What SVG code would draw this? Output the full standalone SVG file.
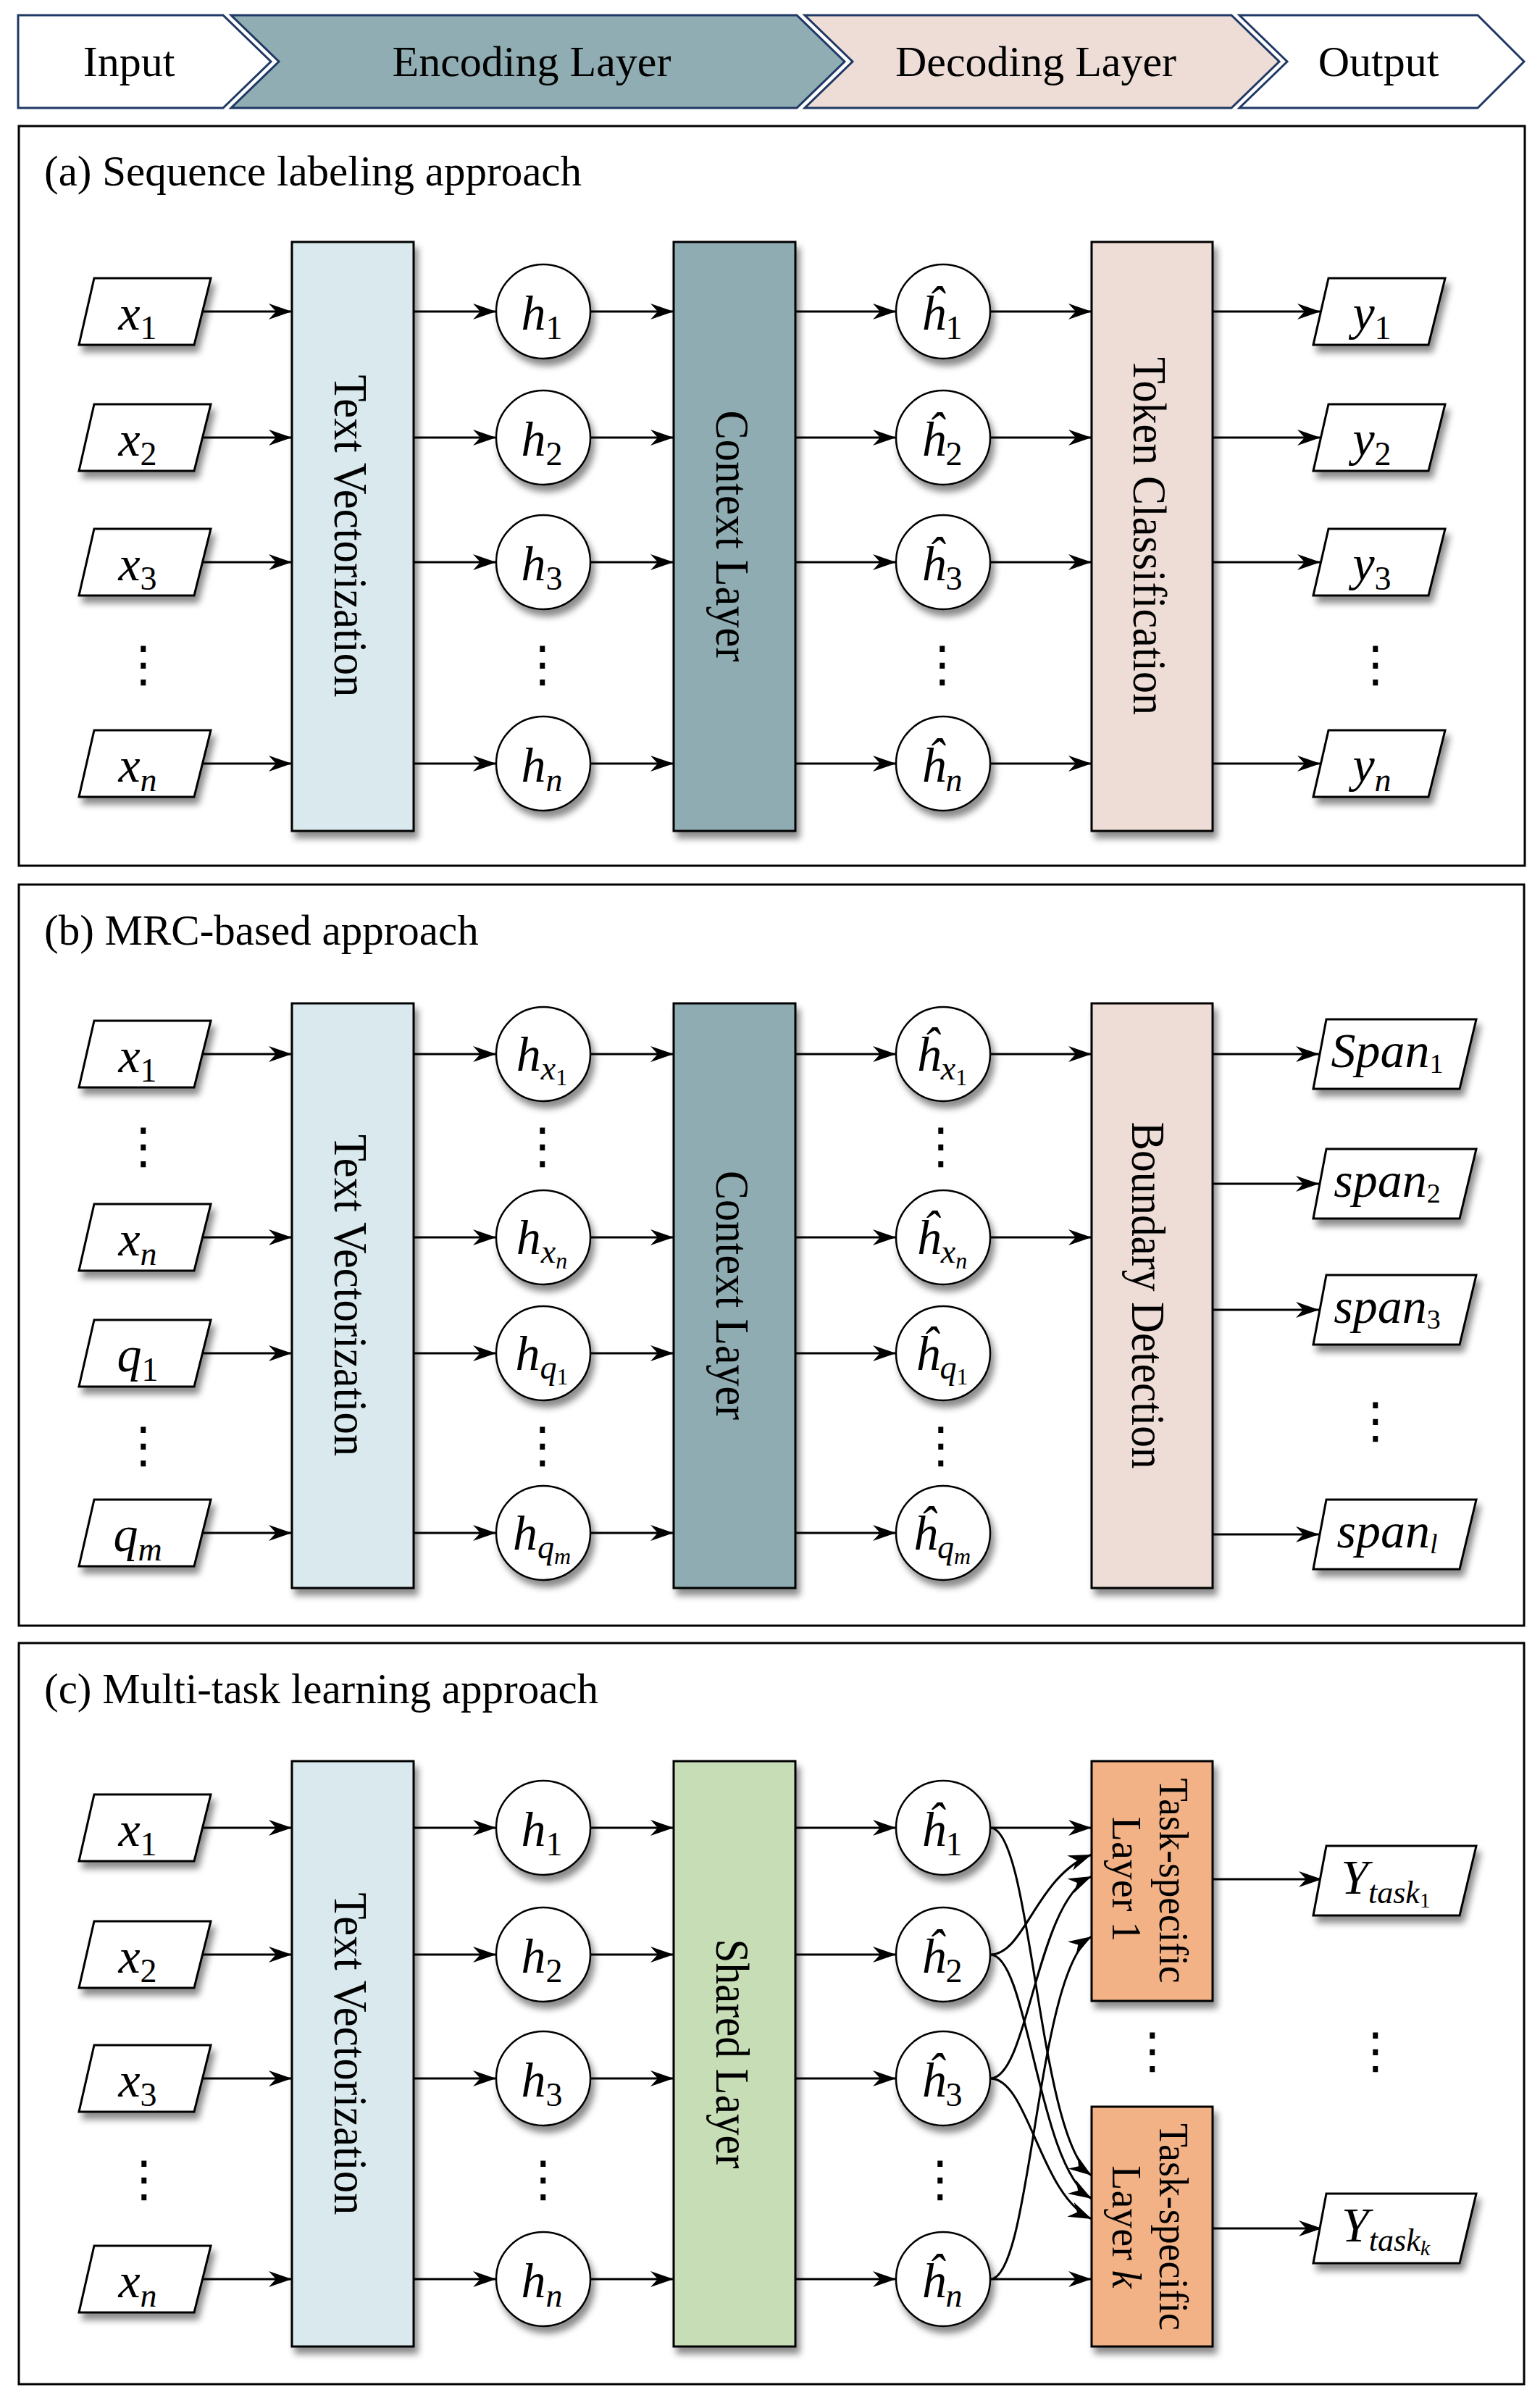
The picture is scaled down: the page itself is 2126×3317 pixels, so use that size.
<svg xmlns="http://www.w3.org/2000/svg" width="2126" height="3317" viewBox="0 0 2126 3317">
<style>
.frame{fill:none;stroke:#000;stroke-width:3}
.ban{stroke:#1F3864;stroke-width:3}
.box{stroke:#000;stroke-width:3;filter:url(#sh)}
.node{fill:#fff;stroke:#000;stroke-width:2.5;filter:url(#sh)}
.conn{fill:none;stroke:#000;stroke-width:3;marker-end:url(#arr)}
text{font-family:"Liberation Serif","Times New Roman",serif;fill:#000}
.bt{font-size:60px;text-anchor:middle}
.title{font-size:59px}
.rl{font-size:66px;text-anchor:middle}
.tl{font-size:56px;text-anchor:middle}
.v{font-size:68px;text-anchor:middle}
.i{font-style:italic}
.dots{font-family:"DejaVu Sans",sans-serif;font-size:68px;text-anchor:middle}
.tv{fill:#D9E9EE}.cl{fill:#8EACB1}.dc{fill:#EEDDD6}.sl{fill:#C6DDB5}.ts{fill:#F2B286}
</style>
<defs>
<filter id="sh" x="-30%" y="-30%" width="170%" height="170%">
<feDropShadow dx="5" dy="9" stdDeviation="5" flood-color="#000" flood-opacity="0.45"/>
</filter>
<marker id="arr" markerWidth="40" markerHeight="30" viewBox="0 0 40 30" refX="32" refY="12" orient="auto" markerUnits="userSpaceOnUse">
<path d="M0,1 L32,12 L0,23 L10,12 Z" fill="#000"/>
</marker>
<polygon id="para" points="-70,-46 91,-46 68,46 -91,46" fill="#fff" stroke="#000" stroke-width="3"/>
<polygon id="paraw" points="-94,-48 113,-48 90,48 -112,48" fill="#fff" stroke="#000" stroke-width="3"/>
</defs>
<rect width="2126" height="3317" fill="#fff"/>

<g id="banner">
<polygon class="ban" fill="#fff" points="25,21 308,21 374,85 308,149 25,149"/>
<polygon class="ban" fill="#8FADB2" points="319,21 1100,21 1166,85 1100,149 319,149 385,85"/>
<polygon class="ban" fill="#EEDDD6" points="1111,21 1700,21 1766,85 1700,149 1111,149 1177,85"/>
<polygon class="ban" fill="#fff" points="1711,21 2040,21 2104,85 2040,149 1711,149 1777,85"/>
<text class="bt" x="178" y="105">Input</text>
<text class="bt" x="734" y="105">Encoding Layer</text>
<text class="bt" x="1430" y="105">Decoding Layer</text>
<text class="bt" x="1903" y="105">Output</text>
</g>

<g id="frames">
<rect class="frame" x="26" y="174" width="2079" height="1021"/>
<text class="title" x="61" y="256">(a) Sequence labeling approach</text>
<rect class="frame" x="26" y="1221" width="2078" height="1023"/>
<text class="title" x="61" y="1304">(b) MRC-based approach</text>
<rect class="frame" x="26" y="2268" width="2078" height="1023"/>
<text class="title" x="61" y="2351">(c) Multi-task learning approach</text>
</g>

<g id="connectors">
<!-- (a) -->
<path class="conn" d="M279,430H403"/><path class="conn" d="M279,604H403"/><path class="conn" d="M279,776H403"/><path class="conn" d="M279,1054H403"/>
<path class="conn" d="M571,430H685"/><path class="conn" d="M571,604H685"/><path class="conn" d="M571,776H685"/><path class="conn" d="M571,1054H685"/>
<path class="conn" d="M815,430H930"/><path class="conn" d="M815,604H930"/><path class="conn" d="M815,776H930"/><path class="conn" d="M815,1054H930"/>
<path class="conn" d="M1098,430H1237"/><path class="conn" d="M1098,604H1237"/><path class="conn" d="M1098,776H1237"/><path class="conn" d="M1098,1054H1237"/>
<path class="conn" d="M1367,430H1507"/><path class="conn" d="M1367,604H1507"/><path class="conn" d="M1367,776H1507"/><path class="conn" d="M1367,1054H1507"/>
<path class="conn" d="M1674,430H1823"/><path class="conn" d="M1674,604H1823"/><path class="conn" d="M1674,776H1823"/><path class="conn" d="M1674,1054H1823"/>
<!-- (b) -->
<path class="conn" d="M279,1455H403"/><path class="conn" d="M279,1708H403"/><path class="conn" d="M279,1868H403"/><path class="conn" d="M279,2116H403"/>
<path class="conn" d="M571,1455H685"/><path class="conn" d="M571,1708H685"/><path class="conn" d="M571,1868H685"/><path class="conn" d="M571,2116H685"/>
<path class="conn" d="M815,1455H930"/><path class="conn" d="M815,1708H930"/><path class="conn" d="M815,1868H930"/><path class="conn" d="M815,2116H930"/>
<path class="conn" d="M1098,1455H1237"/><path class="conn" d="M1098,1708H1237"/><path class="conn" d="M1098,1868H1237"/><path class="conn" d="M1098,2116H1237"/>
<path class="conn" d="M1367,1455H1507"/><path class="conn" d="M1367,1708H1507"/>
<path class="conn" d="M1674,1455H1821"/><path class="conn" d="M1674,1634H1821"/><path class="conn" d="M1674,1808H1821"/><path class="conn" d="M1674,2118H1821"/>
<!-- (c) -->
<path class="conn" d="M279,2523H403"/><path class="conn" d="M279,2698H403"/><path class="conn" d="M279,2869H403"/><path class="conn" d="M279,3146H403"/>
<path class="conn" d="M571,2523H685"/><path class="conn" d="M571,2698H685"/><path class="conn" d="M571,2869H685"/><path class="conn" d="M571,3146H685"/>
<path class="conn" d="M815,2523H930"/><path class="conn" d="M815,2698H930"/><path class="conn" d="M815,2869H930"/><path class="conn" d="M815,3146H930"/>
<path class="conn" d="M1098,2523H1237"/><path class="conn" d="M1098,2698H1237"/><path class="conn" d="M1098,2869H1237"/><path class="conn" d="M1098,3146H1237"/>
<path class="conn" d="M1367,2523H1507"/>
<path class="conn" d="M1367,3146H1507"/>
<path class="conn" d="M1367,2698C1415,2698 1430,2590 1507,2560"/>
<path class="conn" d="M1367,2869C1420,2869 1430,2625 1507,2590"/>
<path class="conn" d="M1367,3146C1425,3146 1430,2720 1507,2673"/>
<path class="conn" d="M1367,2523C1425,2523 1432,2950 1507,3003"/>
<path class="conn" d="M1367,2698C1420,2698 1432,2990 1507,3035"/>
<path class="conn" d="M1367,2869C1420,2869 1435,3030 1507,3063"/>
<path class="conn" d="M1674,2594H1825"/>
<path class="conn" d="M1674,3076H1825"/>
</g>

<!-- ===== (a) nodes ===== -->
<g id="a-x1"><use href="#para" x="200" y="430" filter="url(#sh)"/><text class="v" x="190" y="455"><tspan class="i">x</tspan><tspan font-size="46" dy="13">1</tspan></text></g>
<g id="a-x2"><use href="#para" x="200" y="604" filter="url(#sh)"/><text class="v" x="190" y="629"><tspan class="i">x</tspan><tspan font-size="46" dy="13">2</tspan></text></g>
<g id="a-x3"><use href="#para" x="200" y="776" filter="url(#sh)"/><text class="v" x="190" y="801"><tspan class="i">x</tspan><tspan font-size="46" dy="13">3</tspan></text></g>
<g id="a-xdots"><text class="dots" x="198" y="940">⋮</text></g>
<g id="a-xn"><use href="#para" x="200" y="1054" filter="url(#sh)"/><text class="v" x="190" y="1079"><tspan class="i">x</tspan><tspan font-size="46" dy="13" class="i">n</tspan></text></g>

<g id="a-tv"><rect class="box tv" x="403" y="334" width="168" height="813"/><text class="rl" transform="translate(462,740) rotate(90)" textLength="445" lengthAdjust="spacingAndGlyphs">Text Vectorization</text></g>

<g id="a-h1"><circle class="node" cx="750" cy="430" r="65"/><text class="v" x="748" y="455"><tspan class="i">h</tspan><tspan font-size="46" dy="13">1</tspan></text></g>
<g id="a-h2"><circle class="node" cx="750" cy="604" r="65"/><text class="v" x="748" y="629"><tspan class="i">h</tspan><tspan font-size="46" dy="13">2</tspan></text></g>
<g id="a-h3"><circle class="node" cx="750" cy="776" r="65"/><text class="v" x="748" y="801"><tspan class="i">h</tspan><tspan font-size="46" dy="13">3</tspan></text></g>
<g id="a-hdots"><text class="dots" x="749" y="940">⋮</text></g>
<g id="a-hn"><circle class="node" cx="750" cy="1054" r="65"/><text class="v" x="748" y="1079"><tspan class="i">h</tspan><tspan font-size="46" dy="13" class="i">n</tspan></text></g>

<g id="a-ctx"><rect class="box cl" x="930" y="334" width="168" height="813"/><text class="rl" transform="translate(989,740) rotate(90)" textLength="347" lengthAdjust="spacingAndGlyphs">Context Layer</text></g>

<g id="a-hh1"><circle class="node" cx="1302" cy="430" r="65"/><text class="v" x="1300" y="455"><tspan class="i">ĥ</tspan><tspan font-size="46" dy="13">1</tspan></text></g>
<g id="a-hh2"><circle class="node" cx="1302" cy="604" r="65"/><text class="v" x="1300" y="629"><tspan class="i">ĥ</tspan><tspan font-size="46" dy="13">2</tspan></text></g>
<g id="a-hh3"><circle class="node" cx="1302" cy="776" r="65"/><text class="v" x="1300" y="801"><tspan class="i">ĥ</tspan><tspan font-size="46" dy="13">3</tspan></text></g>
<g id="a-hhdots"><text class="dots" x="1301" y="940">⋮</text></g>
<g id="a-hhn"><circle class="node" cx="1302" cy="1054" r="65"/><text class="v" x="1300" y="1079"><tspan class="i">ĥ</tspan><tspan font-size="46" dy="13" class="i">n</tspan></text></g>

<g id="a-tok"><rect class="box dc" x="1507" y="334" width="167" height="813"/><text class="rl" transform="translate(1565,740) rotate(90)" textLength="494" lengthAdjust="spacingAndGlyphs">Token Classification</text></g>

<g id="a-y1"><use href="#para" x="1904" y="430" filter="url(#sh)"/><text class="v" x="1894" y="455"><tspan class="i">y</tspan><tspan font-size="46" dy="13">1</tspan></text></g>
<g id="a-y2"><use href="#para" x="1904" y="604" filter="url(#sh)"/><text class="v" x="1894" y="629"><tspan class="i">y</tspan><tspan font-size="46" dy="13">2</tspan></text></g>
<g id="a-y3"><use href="#para" x="1904" y="776" filter="url(#sh)"/><text class="v" x="1894" y="801"><tspan class="i">y</tspan><tspan font-size="46" dy="13">3</tspan></text></g>
<g id="a-ydots"><text class="dots" x="1899" y="940">⋮</text></g>
<g id="a-yn"><use href="#para" x="1904" y="1054" filter="url(#sh)"/><text class="v" x="1894" y="1079"><tspan class="i">y</tspan><tspan font-size="46" dy="13" class="i">n</tspan></text></g>

<!-- ===== (b) nodes ===== -->
<g id="b-x1"><use href="#para" x="200" y="1455" filter="url(#sh)"/><text class="v" x="190" y="1480"><tspan class="i">x</tspan><tspan font-size="46" dy="13">1</tspan></text></g>
<g id="b-xdots"><text class="dots" x="198" y="1605">⋮</text></g>
<g id="b-xn"><use href="#para" x="200" y="1708" filter="url(#sh)"/><text class="v" x="190" y="1733"><tspan class="i">x</tspan><tspan font-size="46" dy="13" class="i">n</tspan></text></g>
<g id="b-q1"><use href="#para" x="200" y="1868" filter="url(#sh)"/><text class="v" x="190" y="1893"><tspan class="i">q</tspan><tspan font-size="46" dy="13">1</tspan></text></g>
<g id="b-qdots"><text class="dots" x="198" y="2018">⋮</text></g>
<g id="b-qm"><use href="#para" x="200" y="2116" filter="url(#sh)"/><text class="v" x="190" y="2141"><tspan class="i">q</tspan><tspan font-size="46" dy="13" class="i">m</tspan></text></g>

<g id="b-tv"><rect class="box tv" x="403" y="1385" width="168" height="807"/><text class="rl" transform="translate(462,1788) rotate(90)" textLength="444" lengthAdjust="spacingAndGlyphs">Text Vectorization</text></g>

<g id="b-hx1"><circle class="node" cx="750" cy="1455" r="65"/><text class="v" x="748" y="1478"><tspan class="i">h</tspan><tspan font-size="46" dy="12" class="i">x</tspan><tspan font-size="32" dy="8">1</tspan></text></g>
<g id="b-hdots1"><text class="dots" x="749" y="1605">⋮</text></g>
<g id="b-hxn"><circle class="node" cx="750" cy="1708" r="65"/><text class="v" x="748" y="1731"><tspan class="i">h</tspan><tspan font-size="46" dy="12" class="i">x</tspan><tspan font-size="32" dy="8" class="i">n</tspan></text></g>
<g id="b-hq1"><circle class="node" cx="750" cy="1868" r="65"/><text class="v" x="748" y="1891"><tspan class="i">h</tspan><tspan font-size="46" dy="12" class="i">q</tspan><tspan font-size="32" dy="8">1</tspan></text></g>
<g id="b-hdots2"><text class="dots" x="749" y="2018">⋮</text></g>
<g id="b-hqm"><circle class="node" cx="750" cy="2116" r="65"/><text class="v" x="748" y="2139"><tspan class="i">h</tspan><tspan font-size="46" dy="12" class="i">q</tspan><tspan font-size="32" dy="8" class="i">m</tspan></text></g>

<g id="b-ctx"><rect class="box cl" x="930" y="1385" width="168" height="807"/><text class="rl" transform="translate(989,1788) rotate(90)" textLength="344" lengthAdjust="spacingAndGlyphs">Context Layer</text></g>

<g id="b-hhx1"><circle class="node" cx="1302" cy="1455" r="65"/><text class="v" x="1300" y="1478"><tspan class="i">ĥ</tspan><tspan font-size="46" dy="12" class="i">x</tspan><tspan font-size="32" dy="8">1</tspan></text></g>
<g id="b-hhdots1"><text class="dots" x="1299" y="1605">⋮</text></g>
<g id="b-hhxn"><circle class="node" cx="1302" cy="1708" r="65"/><text class="v" x="1300" y="1731"><tspan class="i">ĥ</tspan><tspan font-size="46" dy="12" class="i">x</tspan><tspan font-size="32" dy="8" class="i">n</tspan></text></g>
<g id="b-hhq1"><circle class="node" cx="1302" cy="1868" r="65"/><text class="v" x="1300" y="1891"><tspan class="i">ĥ</tspan><tspan font-size="46" dy="12" class="i">q</tspan><tspan font-size="32" dy="8">1</tspan></text></g>
<g id="b-hhdots2"><text class="dots" x="1299" y="2018">⋮</text></g>
<g id="b-hhqm"><circle class="node" cx="1302" cy="2116" r="65"/><text class="v" x="1300" y="2139"><tspan class="i">ĥ</tspan><tspan font-size="46" dy="12" class="i">q</tspan><tspan font-size="32" dy="8" class="i">m</tspan></text></g>

<g id="b-bd"><rect class="box dc" x="1507" y="1385" width="167" height="807"/><text class="rl" transform="translate(1563,1788) rotate(90)" textLength="479" lengthAdjust="spacingAndGlyphs">Boundary Detection</text></g>

<g id="b-s1"><use href="#paraw" x="1925" y="1455" filter="url(#sh)"/><text class="v" x="1915" y="1473" font-size="58"><tspan class="i">Span</tspan><tspan font-size="38" dy="8">1</tspan></text></g>
<g id="b-s2"><use href="#paraw" x="1925" y="1634" filter="url(#sh)"/><text class="v" x="1915" y="1652" font-size="58"><tspan class="i">span</tspan><tspan font-size="38" dy="8">2</tspan></text></g>
<g id="b-s3"><use href="#paraw" x="1925" y="1808" filter="url(#sh)"/><text class="v" x="1915" y="1826" font-size="58"><tspan class="i">span</tspan><tspan font-size="38" dy="8">3</tspan></text></g>
<g id="b-sdots"><text class="dots" x="1899" y="1984">⋮</text></g>
<g id="b-sl"><use href="#paraw" x="1925" y="2118" filter="url(#sh)"/><text class="v" x="1915" y="2136" font-size="58"><tspan class="i">span</tspan><tspan font-size="38" dy="8" class="i">l</tspan></text></g>

<!-- ===== (c) nodes ===== -->
<g id="c-x1"><use href="#para" x="200" y="2523" filter="url(#sh)"/><text class="v" x="190" y="2548"><tspan class="i">x</tspan><tspan font-size="46" dy="13">1</tspan></text></g>
<g id="c-x2"><use href="#para" x="200" y="2698" filter="url(#sh)"/><text class="v" x="190" y="2723"><tspan class="i">x</tspan><tspan font-size="46" dy="13">2</tspan></text></g>
<g id="c-x3"><use href="#para" x="200" y="2869" filter="url(#sh)"/><text class="v" x="190" y="2894"><tspan class="i">x</tspan><tspan font-size="46" dy="13">3</tspan></text></g>
<g id="c-xdots"><text class="dots" x="199" y="3031">⋮</text></g>
<g id="c-xn"><use href="#para" x="200" y="3146" filter="url(#sh)"/><text class="v" x="190" y="3171"><tspan class="i">x</tspan><tspan font-size="46" dy="13" class="i">n</tspan></text></g>

<g id="c-tv"><rect class="box tv" x="403" y="2431" width="168" height="808"/><text class="rl" transform="translate(462,2835) rotate(90)" textLength="445" lengthAdjust="spacingAndGlyphs">Text Vectorization</text></g>

<g id="c-h1"><circle class="node" cx="750" cy="2523" r="65"/><text class="v" x="748" y="2548"><tspan class="i">h</tspan><tspan font-size="46" dy="13">1</tspan></text></g>
<g id="c-h2"><circle class="node" cx="750" cy="2698" r="65"/><text class="v" x="748" y="2723"><tspan class="i">h</tspan><tspan font-size="46" dy="13">2</tspan></text></g>
<g id="c-h3"><circle class="node" cx="750" cy="2869" r="65"/><text class="v" x="748" y="2894"><tspan class="i">h</tspan><tspan font-size="46" dy="13">3</tspan></text></g>
<g id="c-hdots"><text class="dots" x="750" y="3031">⋮</text></g>
<g id="c-hn"><circle class="node" cx="750" cy="3146" r="65"/><text class="v" x="748" y="3171"><tspan class="i">h</tspan><tspan font-size="46" dy="13" class="i">n</tspan></text></g>

<g id="c-shared"><rect class="box sl" x="930" y="2431" width="168" height="808"/><text class="rl" transform="translate(989,2835) rotate(90)" textLength="317" lengthAdjust="spacingAndGlyphs">Shared Layer</text></g>

<g id="c-hh1"><circle class="node" cx="1302" cy="2523" r="65"/><text class="v" x="1300" y="2548"><tspan class="i">ĥ</tspan><tspan font-size="46" dy="13">1</tspan></text></g>
<g id="c-hh2"><circle class="node" cx="1302" cy="2698" r="65"/><text class="v" x="1300" y="2723"><tspan class="i">ĥ</tspan><tspan font-size="46" dy="13">2</tspan></text></g>
<g id="c-hh3"><circle class="node" cx="1302" cy="2869" r="65"/><text class="v" x="1300" y="2894"><tspan class="i">ĥ</tspan><tspan font-size="46" dy="13">3</tspan></text></g>
<g id="c-hhdots"><text class="dots" x="1298" y="3031">⋮</text></g>
<g id="c-hhn"><circle class="node" cx="1302" cy="3146" r="65"/><text class="v" x="1300" y="3171"><tspan class="i">ĥ</tspan><tspan font-size="46" dy="13" class="i">n</tspan></text></g>

<g id="c-task1"><rect class="box ts" x="1507" y="2431" width="167" height="331"/><text class="tl" transform="translate(1601,2596) rotate(90)" textLength="283" lengthAdjust="spacingAndGlyphs">Task-specific</text><text class="tl" transform="translate(1536,2594) rotate(90)">Layer 1</text></g>
<g id="c-taskdots"><text class="dots" x="1591" y="2854">⋮</text></g>
<g id="c-taskk"><rect class="box ts" x="1507" y="2908" width="167" height="331"/><text class="tl" transform="translate(1601,3074) rotate(90)" textLength="286" lengthAdjust="spacingAndGlyphs">Task-specific</text><text class="tl" transform="translate(1536,3074) rotate(90)">Layer <tspan class="i">k</tspan></text></g>

<g id="c-y1"><use href="#paraw" x="1925" y="2596" filter="url(#sh)"/><text class="v" x="1913" y="2614" font-size="58"><tspan class="i">Y</tspan><tspan font-size="44" dy="13" class="i">task</tspan><tspan font-size="30" dy="6">1</tspan></text></g>
<g id="c-ydots"><text class="dots" x="1899" y="2854">⋮</text></g>
<g id="c-yk"><use href="#paraw" x="1925" y="3076" filter="url(#sh)"/><text class="v" x="1913" y="3094" font-size="58"><tspan class="i">Y</tspan><tspan font-size="44" dy="13" class="i">task</tspan><tspan font-size="30" dy="6" class="i">k</tspan></text></g>
</svg>
